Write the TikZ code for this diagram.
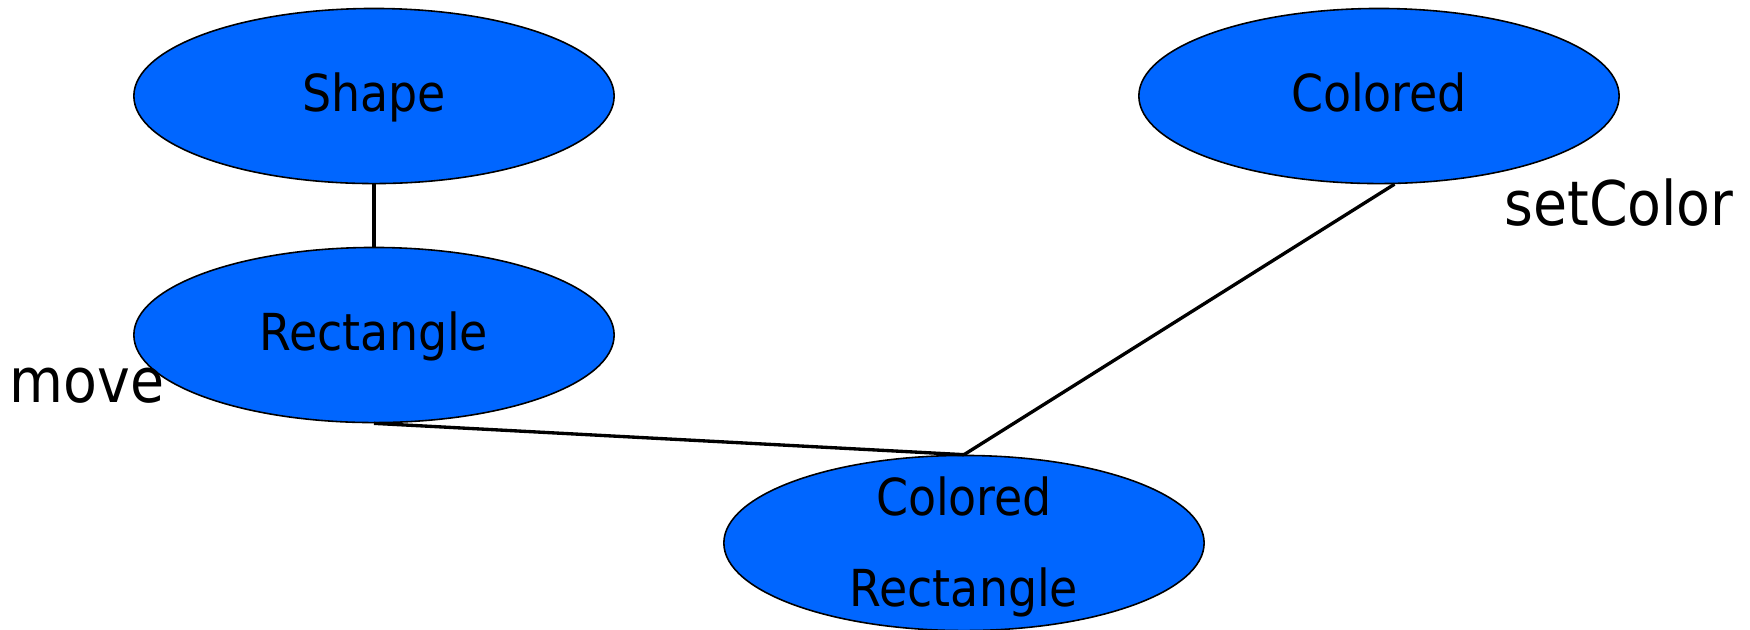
\documentclass[tikz,border=0pt]{standalone}
\usepackage{fontspec}
\setmainfont{DejaVu Sans Condensed}
\usetikzlibrary{shapes.geometric}
\definecolor{classblue}{RGB}{0,102,255}
\tikzset{
  classnode/.style={ellipse, draw=black, line width=0.45pt, fill=classblue,
    minimum width=4.8cm, minimum height=1.75cm, inner sep=0pt,
    font=\fontsize{14.5}{17}\selectfont, text height=9pt, text depth=0pt},
  nodetext/.style={font=\fontsize{14.5}{17}\selectfont, inner sep=0pt, anchor=base},
  method/.style={font=\fontsize{17.5}{21}\selectfont, inner sep=0pt, anchor=base},
  link/.style={draw=black, line width=0.95pt}
}
\begin{document}
\begin{tikzpicture}[x=0.01cm, y=-0.01cm]
  \useasboundingbox (0,0) rectangle (1750,629);

  % class nodes
  \node[classnode] (shape) at (374,96) {Shape};
  \node[classnode] (rect)  at (374,335) {Rectangle};
  \node[classnode] (col)   at (1379,96) {Colored};
  \node[classnode] (cr)    at (964,543) {};
  \node[nodetext] (crA) at (964,515) {Colored};
  \node[nodetext] (crB) at (964,606) {Rectangle};

  % method labels
  \node[method] (mv) at (87,402) {move};
  \node[method] (sc) at (1619,225) {setColor};

  % inheritance links
  \draw[link] (shape.south) -- (rect.north);
  \draw[link] (rect.south) -- (cr.north);
  \draw[link] (col.280) -- (cr.north);
\end{tikzpicture}
\end{document}
